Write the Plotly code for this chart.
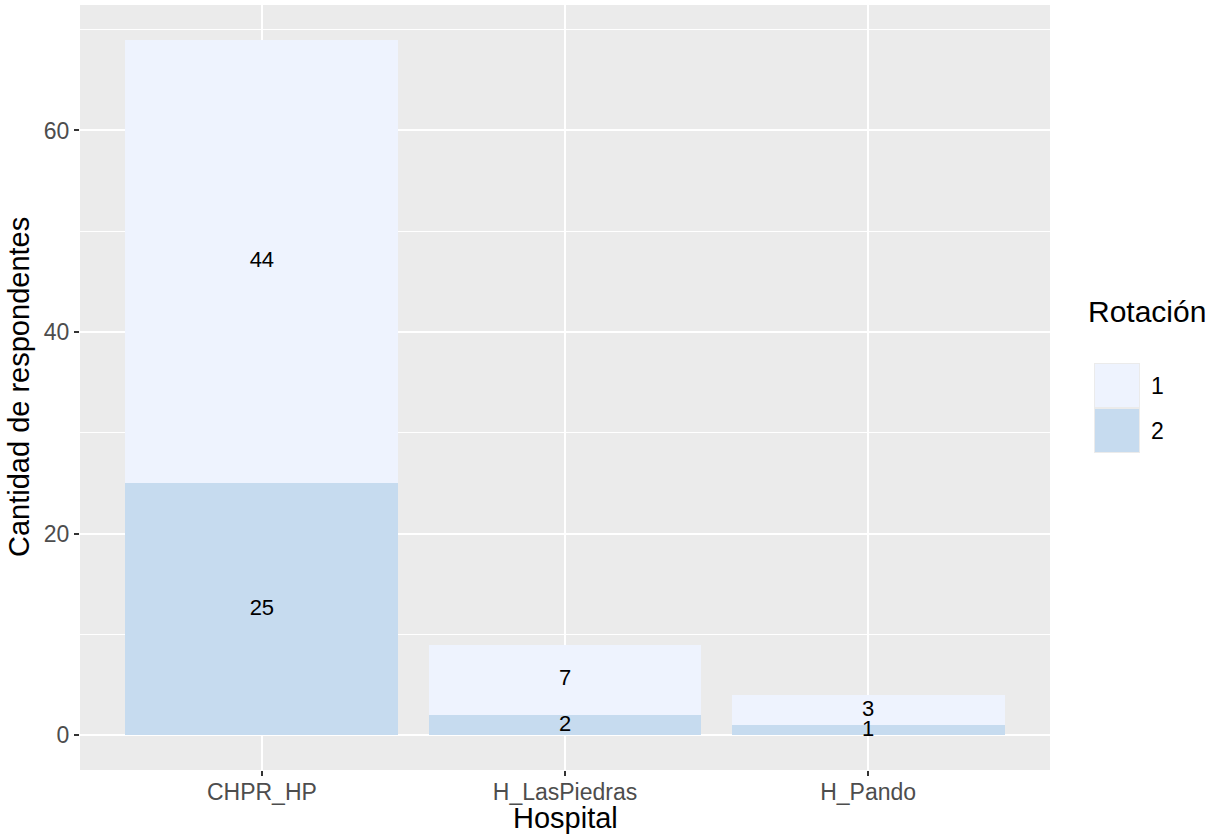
import plotly.graph_objects as go

hospitals = ["CHPR_HP", "H_LasPiedras", "H_Pando"]
rot2 = [25, 2, 1]
rot1 = [44, 7, 3]
legend_labels = ["1", "2"]

col1 = "#EEF3FE"
col2 = "#C6DBEF"

# pixel helpers (plot area 80..1050 x 5..770)
L, R, T, B = 80, 1050, 5, 770
def px(x):
    return (x - L) / (R - L)
def py(y):
    return (B - y) / (B - T)

fig = go.Figure()
fig.add_trace(go.Bar(x=hospitals, y=rot2, marker=dict(color=col2, line=dict(width=0)),
                     width=0.9, name="2", showlegend=False))
fig.add_trace(go.Bar(x=hospitals, y=rot1, marker=dict(color=col1, line=dict(width=0)),
                     width=0.9, name="1", showlegend=False))

# labels at the middle of each stacked segment
mid2 = [v / 2 for v in rot2]
mid1 = [a + b / 2 for a, b in zip(rot2, rot1)]
fig.add_trace(go.Scatter(x=hospitals, y=mid2, mode="text", text=[str(v) for v in rot2],
                         textfont=dict(size=22, color="black"), showlegend=False, hoverinfo="skip"))
fig.add_trace(go.Scatter(x=hospitals, y=mid1, mode="text", text=[str(v) for v in rot1],
                         textfont=dict(size=22, color="black"), showlegend=False, hoverinfo="skip"))

# axis titles
fig.add_annotation(x=0.5, y=py(818), xref="paper", yref="paper", text="Hospital",
                   showarrow=False, xanchor="center", yanchor="middle",
                   font=dict(size=29, color="black"))
fig.add_annotation(x=px(19), y=py(387), xref="paper", yref="paper", text="Cantidad de respondentes",
                   showarrow=False, xanchor="center", yanchor="middle", textangle=-90,
                   font=dict(size=29, color="black"))

# custom ggplot-like legend
fig.add_annotation(x=px(1086), y=py(311), xref="paper", yref="paper", text="Rotación",
                   showarrow=False, xanchor="left", yanchor="middle",
                   font=dict(size=30, color="black"))
keys = [(363, 408, col1), (408, 453, col2)]
for (y0, y1, c), lab in zip(keys, legend_labels):
    fig.add_shape(type="rect", xref="paper", yref="paper", x0=px(1094), x1=px(1140),
                  y0=py(y1), y1=py(y0), fillcolor="#EBEBEB", line=dict(width=0), layer="below")
    fig.add_shape(type="rect", xref="paper", yref="paper", x0=px(1095), x1=px(1139),
                  y0=py(y1 - 1), y1=py(y0 + 1), fillcolor=c, line=dict(width=0))
    fig.add_annotation(x=px(1149), y=py((y0 + y1) / 2), xref="paper", yref="paper", text=lab,
                       showarrow=False, xanchor="left", yanchor="middle",
                       font=dict(size=23, color="black"))

fig.update_layout(
    width=1210, height=840,
    barmode="stack",
    margin=dict(l=L, r=1210 - R, t=T, b=840 - B),
    paper_bgcolor="white",
    plot_bgcolor="#EBEBEB",
    font=dict(family="Liberation Sans, Arial, sans-serif", color="#4D4D4D"),
    showlegend=False,
)
fig.update_xaxes(
    range=[-0.6, 2.6], showgrid=True, gridcolor="white", gridwidth=2,
    ticks="outside", ticklen=5, tickwidth=2, tickcolor="#333333",
    tickfont=dict(size=23, color="#4D4D4D"), ticklabelstandoff=-4,
    zeroline=False, showline=False, automargin=False,
)
fig.update_yaxes(
    range=[-3.45, 72.45], tickvals=[0, 20, 40, 60], showgrid=True, gridcolor="white", gridwidth=2,
    minor=dict(tickvals=[10, 30, 50, 70], showgrid=True, gridcolor="white", gridwidth=1, ticks=""),
    ticks="outside", ticklen=5, tickwidth=2, tickcolor="#333333",
    tickfont=dict(size=23, color="#4D4D4D"),
    zeroline=False, showline=False, automargin=False,
)

fig.write_html("out.html", config={"displayModeBar": False},
               post_script="document.body.style.margin='0';")
